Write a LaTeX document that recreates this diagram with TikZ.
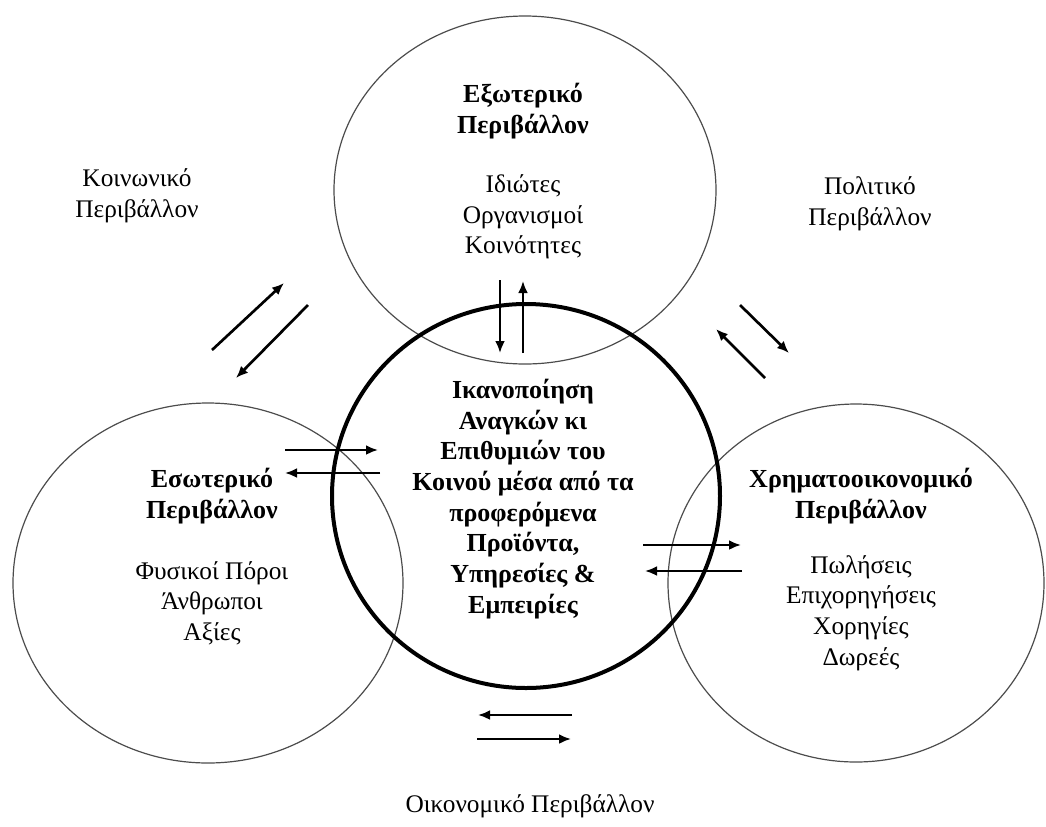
\documentclass[tikz,border=0pt]{standalone}
\usepackage{fontspec}
\setmainfont{Liberation Serif}
\usetikzlibrary{arrows.meta}

\tikzset{
  envcircle/.style={draw=black!70, line width=0.9pt},
  corecircle/.style={draw=black, line width=3pt},
  flow/.style={line width=2pt, -{Latex[length=9pt,width=7.5pt]}},
  txt/.style={inner sep=0.75pt, align=center, font=\fontsize{19}{23}\selectfont},
  btxt/.style={txt, font=\fontsize{19.5}{23}\selectfont\bfseries},
}

\begin{document}
\begin{tikzpicture}[x=0.75pt,y=0.75pt,yscale=-1,xscale=1]
        \useasboundingbox (0,0) rectangle (1046,826);

        %Shape: Ellipse (external)
        \draw [envcircle] (525,190) ellipse (191 and 174);
        %Shape: Ellipse (internal)
        \draw [envcircle] (208,583) ellipse (195 and 180);
        %Shape: Ellipse (financial)
        \draw [envcircle] (856,583) ellipse (188 and 179);
        %Shape: Circle (core)
        \draw [corecircle] (526,496) ellipse (194 and 192);

        % arrow ends
        \coordinate (extIn) at (500,280);  \coordinate (extInEnd) at (500,353);
        \coordinate (extOut) at (523,353); \coordinate (extOutEnd) at (523,281);
        \coordinate (socOut) at (212,350); \coordinate (socOutEnd) at (284,283);
        \coordinate (socIn) at (308,305);  \coordinate (socInEnd) at (236,378);
        \coordinate (polIn) at (740,305);  \coordinate (polInEnd) at (789,353);
        \coordinate (polOut) at (765,378); \coordinate (polOutEnd) at (716,329);
        \coordinate (intOut) at (285,450); \coordinate (intOutEnd) at (378,450);
        \coordinate (intIn) at (380,473);  \coordinate (intInEnd) at (285,473);
        \coordinate (finOut) at (643,545); \coordinate (finOutEnd) at (741,545);
        \coordinate (finIn) at (742,571);  \coordinate (finInEnd) at (645,571);
        \coordinate (ecoIn) at (572,715);  \coordinate (ecoInEnd) at (478,715);
        \coordinate (ecoOut) at (477,739); \coordinate (ecoOutEnd) at (571,739);

        %Straight Lines
        \draw [flow] (extIn) -- (extInEnd);
        \draw [flow] (extOut) -- (extOutEnd);
        \draw [flow] (socOut) -- (socOutEnd);
        \draw [flow] (socIn) -- (socInEnd);
        \draw [flow] (polIn) -- (polInEnd);
        \draw [flow] (polOut) -- (polOutEnd);
        \draw [flow] (intOut) -- (intOutEnd);
        \draw [flow] (intIn) -- (intInEnd);
        \draw [flow] (finOut) -- (finOutEnd);
        \draw [flow] (finIn) -- (finInEnd);
        \draw [flow] (ecoIn) -- (ecoInEnd);
        \draw [flow] (ecoOut) -- (ecoOutEnd);

        % Text Node
        \node [btxt] (extTitle) at (523,111) {Εξωτερικό\\Περιβάλλον};
        % Text Node
        \node [txt] (extList) at (523,217) {Ιδιώτες\\Οργανισμοί\\Κοινότητες};
        % Text Node
        \node [btxt] (core) at (523,499) {Ικανοποίηση\\Αναγκών κι\\Επιθυμιών του\\Κοινού μέσα από τα\\προφερόμενα\\Προϊόντα,\\Υπηρεσίες \&\\Εμπειρίες};
        % Text Node
        \node [btxt] (intTitle) at (212,496) {Εσωτερικό\\Περιβάλλον};
        % Text Node
        \node [txt] (intList) at (212,603) {Φυσικοί Πόροι\\Άνθρωποι\\Αξίες};
        % Text Node
        \node [btxt] (finTitle) at (861,496) {Χρηματοοικονομικό\\Περιβάλλον};
        % Text Node
        \node [txt] (finList) at (861,613) {Πωλήσεις\\Επιχορηγήσεις\\Χορηγίες\\Δωρεές};
        % Text Node
        \node [txt] (social) at (137,196) {Κοινωνικό\\Περιβάλλον};
        % Text Node
        \node [txt] (political) at (870,204) {Πολιτικό\\Περιβάλλον};
        % Text Node
        \node [txt] (economic) at (530,806) {Οικονομικό Περιβάλλον};

\end{tikzpicture}
\end{document}
